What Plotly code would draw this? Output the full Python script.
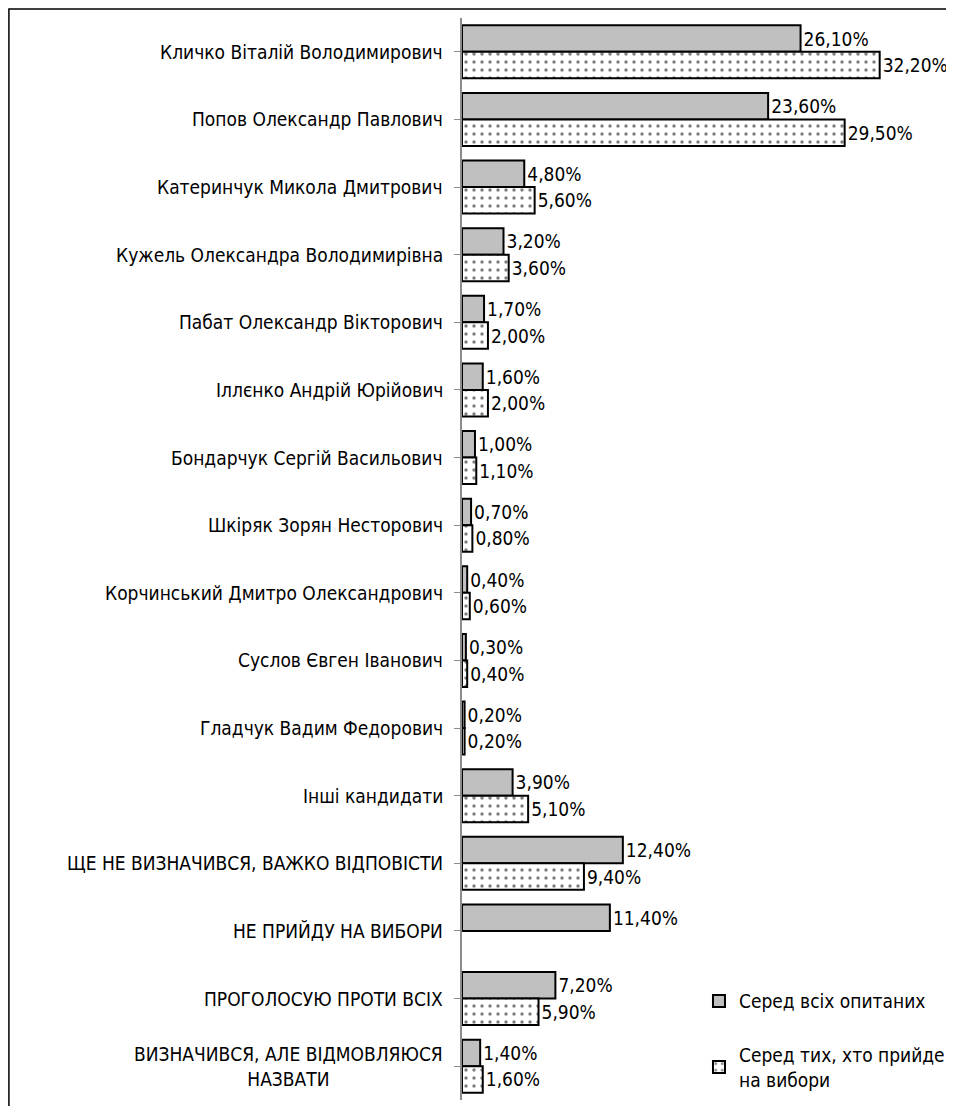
import plotly.graph_objects as go

# survey data
candidates = [
    "Кличко Віталій Володимирович",
    "Попов Олександр Павлович",
    "Катеринчук Микола Дмитрович",
    "Кужель Олександра Володимирівна",
    "Пабат Олександр Вікторович",
    "Іллєнко Андрій Юрійович",
    "Бондарчук Сергій Васильович",
    "Шкіряк Зорян Несторович",
    "Корчинський Дмитро Олександрович",
    "Суслов Євген Іванович",
    "Гладчук Вадим Федорович",
    "Інші кандидати",
    "ЩЕ НЕ ВИЗНАЧИВСЯ, ВАЖКО ВІДПОВІСТИ",
    "НЕ ПРИЙДУ НА ВИБОРИ",
    "ПРОГОЛОСУЮ ПРОТИ ВСІХ",
    "ВИЗНАЧИВСЯ, АЛЕ ВІДМОВЛЯЮСЯ<br>НАЗВАТИ",
]
all_respondents = [26.1, 23.6, 4.8, 3.2, 1.7, 1.6, 1.0, 0.7, 0.4, 0.3, 0.2, 3.9, 12.4, 11.4, 7.2, 1.4]
voters = [32.2, 29.5, 5.6, 3.6, 2.0, 2.0, 1.1, 0.8, 0.6, 0.4, 0.2, 5.1, 9.4, None, 5.9, 1.6]
series_names = ["Серед всіх опитаних", "Серед тих, хто прийде<br>на вибори"]

FONT = "DejaVu Sans Condensed, sans-serif"
cats = list(range(len(candidates)))

fig = go.Figure()
fig.add_trace(go.Bar(
    y=cats, x=all_respondents, orientation="h", name=series_names[0],
    legendgroup="a",
    marker=dict(color="#c0c0c0", line=dict(color="black", width=2)),
    texttemplate="%{x:.2f}%", textposition="outside", cliponaxis=False,
    textfont=dict(size=19, color="black"),
))
fig.add_trace(go.Bar(
    y=cats, x=voters, orientation="h", name=series_names[1],
    legendgroup="b",
    marker=dict(color="white", line=dict(color="black", width=2),
                pattern=dict(shape=".", fgcolor="black", bgcolor="white", size=8, solidity=0.14)),
    texttemplate="%{x:.2f}%", textposition="outside", cliponaxis=False,
    textfont=dict(size=19, color="black"),
))

# category labels as annotations so the two-line one is centred
for i, c in enumerate(candidates):
    fig.add_annotation(x=0, xref="paper", y=i, yref="y", text=c, showarrow=False,
                       xanchor="right", xshift=-17, align="center",
                       font=dict(size=19, color="black", family=FONT))

# outer frame (page has an 8px body margin, so the frame sits at the figure edge)
fig.add_shape(type="rect", xref="paper", yref="paper", x0=-0.998, x1=1.3, y0=-0.2, y1=1.0083,
              line=dict(color="black", width=1.5), fillcolor="rgba(0,0,0,0)", layer="above")

fig.update_layout(
    width=954, height=1106,
    margin=dict(l=454, r=46, t=10, b=14),
    barmode="group", bargap=0.215, bargroupgap=0,
    separators=", ",
    paper_bgcolor="white", plot_bgcolor="white",
    font=dict(family=FONT, size=19, color="black"),
    legend=dict(x=0.522, y=0.109, xanchor="left", yanchor="top",
                traceorder="grouped", tracegroupgap=26,
                font=dict(size=19), bgcolor="rgba(0,0,0,0)"),
)
fig.update_xaxes(range=[0, 35], showgrid=False, showticklabels=False, zeroline=False,
                 showline=False)
fig.update_yaxes(showticklabels=False, showgrid=False, zeroline=False,
                 showline=True, linecolor="#8c8c8c", linewidth=1.5,
                 tickmode="array", tickvals=cats, ticks="outside", tickson="boundaries",
                 ticklen=6, tickcolor="#8c8c8c", range=[15.5, -0.5])

fig.write_html("out.html")
